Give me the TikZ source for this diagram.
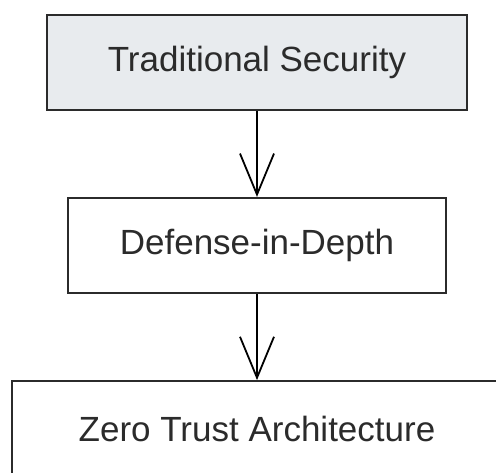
\documentclass[tikz,border=0pt]{standalone}
\usepackage{fontspec}
\setmainfont{Liberation Sans}
\usetikzlibrary{matrix,arrows.meta}
\definecolor{boxline}{HTML}{2B2B2B}
\definecolor{topfill}{HTML}{E8EBEE}

\begin{document}
\begin{tikzpicture}
	\useasboundingbox (0,0) rectangle (496pt,-472pt);
	\matrix (m) [matrix of nodes,row sep=86pt,at={(257pt,-245.5pt)},
		nodes={draw=boxline,line width=2.2pt,minimum height=95pt,inner sep=0pt,
			text=boxline,font=\fontsize{35}{42}\selectfont}]
	{
	|[fill=topfill,minimum width=420pt]| Traditional Security \\
	|[minimum width=378pt]| Defense-in-Depth \\
	|[minimum width=490pt]| Zero Trust Architecture \\};
	\path[-{Straight Barb[length=41pt,width=34pt]},line width=1.8pt,black]
	(m-1-1) edge (m-2-1)
	(m-2-1) edge (m-3-1);
\end{tikzpicture}
\end{document}
